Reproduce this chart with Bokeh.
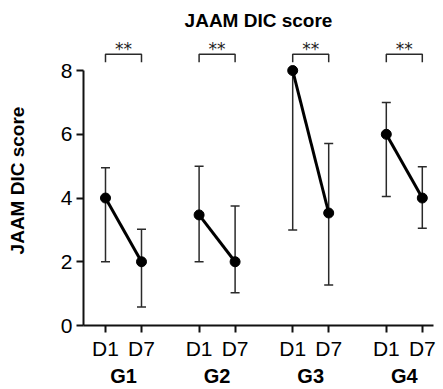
from bokeh.plotting import figure
from bokeh.models import (Range1d, FixedTicker, LinearAxis, Whisker, TeeHead,
                          ColumnDataSource)
from bokeh.core.properties import value
from bokeh.embed import file_html
from bokeh.resources import INLINE

# ---- data ----
groups = ["G1", "G2", "G3", "G4"]
days = ["D1", "D7"]
mean_d1 = [4.0, 3.47, 8.0, 6.0]
mean_d7 = [2.0, 2.0, 3.53, 4.0]
upper_d1 = [4.95, 5.0, 8.0, 7.0]
lower_d1 = [2.0, 2.0, 3.0, 4.05]
upper_d7 = [3.02, 3.75, 5.71, 4.98]
lower_d7 = [0.58, 1.03, 1.27, 3.05]
significance = ["**", "**", "**", "**"]
y_ticks = [0, 2, 4, 6, 8]

# ---- layout helpers ----
GROUP_STEP = 2.6
FONT = "Liberation Sans"
INK = "#111111"
BAR = "#2a2a2a"
BRACKET_TOP = 8.51
BRACKET_LEG = 0.25

x_d1 = [round(i * GROUP_STEP, 6) for i in range(len(groups))]
x_d7 = [round(x + 1, 6) for x in x_d1]
x_center = [round(x + 0.5, 6) for x in x_d1]

all_x = []
all_lbl = []
for a, b in zip(x_d1, x_d7):
    all_x += [a, b]
    all_lbl += days

p = figure(width=443, height=389, output_backend="svg", toolbar_location=None,
           x_range=Range1d(-0.611, 9.111), y_range=Range1d(0, 9.1),
           min_border_left=83, min_border_right=10, min_border_top=35,
           min_border_bottom=63)
p.outline_line_color = None
p.xgrid.visible = False
p.ygrid.visible = False

p.title.text = "JAAM DIC score"
p.title.align = "center"
p.title.offset = 5
p.title.text_font = FONT
p.title.text_font_size = "19px"
p.title.text_font_style = "bold"
p.title.text_color = "#000000"

# x axis: D1 / D7
xa = p.xaxis[0]
xa.ticker = FixedTicker(ticks=all_x)
xa.major_label_overrides = {x: l for x, l in zip(all_x, all_lbl)}
xa.minor_tick_line_color = None
xa.major_tick_in = 0
xa.major_tick_out = 7
xa.axis_line_width = 2
xa.major_tick_line_width = 2
xa.axis_line_color = INK
xa.major_tick_line_color = INK
xa.major_label_text_font = FONT
xa.major_label_text_font_size = "21px"
xa.major_label_text_color = "#000000"
xa.major_label_standoff = 4

# group axis
ga = LinearAxis(ticker=FixedTicker(ticks=x_center),
                major_label_overrides={x: g for x, g in zip(x_center, groups)},
                axis_line_color=None, major_tick_line_color=None,
                minor_tick_line_color=None, major_tick_in=0, major_tick_out=0,
                major_label_text_font=FONT, major_label_text_font_size="20px",
                major_label_text_font_style="bold", major_label_text_color="#000000",
                major_label_standoff=2)
p.add_layout(ga, "below")

# y axis
ya = p.yaxis[0]
ya.ticker = FixedTicker(ticks=y_ticks)
ya.bounds = (0, 8)
ya.minor_tick_line_color = None
ya.major_tick_in = 0
ya.major_tick_out = 7
ya.axis_line_width = 2
ya.major_tick_line_width = 2
ya.axis_line_color = INK
ya.major_tick_line_color = INK
ya.major_label_text_font = FONT
ya.major_label_text_font_size = "21px"
ya.major_label_text_color = "#000000"
ya.major_label_standoff = 4
ya.axis_label = "JAAM DIC score"
ya.axis_label_text_font = FONT
ya.axis_label_text_font_size = "19px"
ya.axis_label_text_font_style = "bold"
ya.axis_label_text_color = "#000000"
ya.axis_label_standoff = 30

# error bars
src = ColumnDataSource(dict(x=x_d1 + x_d7, upper=upper_d1 + upper_d7,
                            lower=lower_d1 + lower_d7))
w = Whisker(source=src, base="x", upper="upper", lower="lower",
            line_color=BAR, line_width=1.5,
            upper_head=TeeHead(size=9, line_color=BAR, line_width=1.5),
            lower_head=TeeHead(size=9, line_color=BAR, line_width=1.5))
p.add_layout(w)

# connecting lines and points
p.multi_line(xs=[[a, b] for a, b in zip(x_d1, x_d7)],
             ys=[[m1, m7] for m1, m7 in zip(mean_d1, mean_d7)],
             line_color="#000000", line_width=3)
p.scatter(x=x_d1 + x_d7, y=mean_d1 + mean_d7, size=10,
          fill_color="#000000", line_color="#000000")

# significance brackets
p.multi_line(xs=[[a, a, b, b] for a, b in zip(x_d1, x_d7)],
             ys=[[BRACKET_TOP - BRACKET_LEG, BRACKET_TOP, BRACKET_TOP,
                  BRACKET_TOP - BRACKET_LEG] for _ in groups],
             line_color=BAR, line_width=1.5)
p.text(x=x_center, y=[BRACKET_TOP] * len(groups), text=significance,
       text_align="center", text_baseline="alphabetic", y_offset=-5,
       text_font=value("DejaVu Sans"), text_font_size="17px",
       text_color="#222222")

open("out.html", "w").write(file_html(p, INLINE))
